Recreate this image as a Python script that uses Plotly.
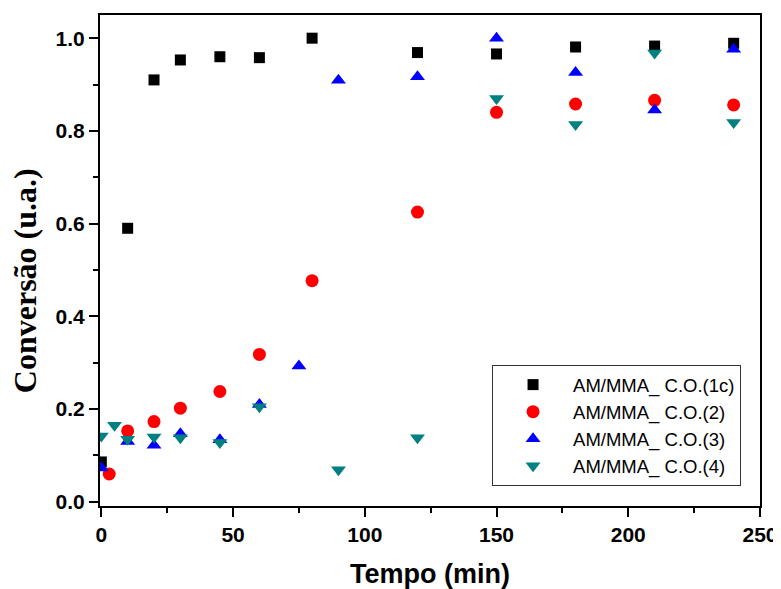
import plotly.graph_objects as go

t1 = [0, 10, 20, 30, 45, 60, 80, 120, 150, 180, 210, 240]
c1 = [0.086, 0.59, 0.91, 0.953, 0.96, 0.958, 1.0, 0.969, 0.966, 0.981, 0.983, 0.989]

t2 = [3, 10, 20, 30, 45, 60, 80, 120, 150, 180, 210, 240]
c2 = [0.06, 0.153, 0.173, 0.202, 0.238, 0.318, 0.477, 0.625, 0.840, 0.858, 0.866, 0.856]

t3 = [0, 10, 20, 30, 45, 60, 75, 90, 120, 150, 180, 210, 240]
c3 = [0.073, 0.13, 0.122, 0.147, 0.134, 0.21, 0.293, 0.909, 0.917, 1.0, 0.926, 0.845, 0.976]

t4 = [0, 5, 10, 20, 30, 45, 60, 90, 120, 150, 180, 210, 240]
c4 = [0.142, 0.165, 0.135, 0.14, 0.138, 0.128, 0.205, 0.069, 0.138, 0.870, 0.814, 0.968, 0.818]

names = ["AM/MMA_ C.O.(1c)", "AM/MMA_ C.O.(2)", "AM/MMA_ C.O.(3)", "AM/MMA_ C.O.(4)"]
colors = ["#000000", "#ff0000", "#0000ff", "#008080"]
symbols = ["square", "circle", "triangle-up", "triangle-down"]
sizes = [11, 13, 13, 13]

fig = go.Figure()
for t, c, n, col, s, sz in zip([t1, t2, t3, t4], [c1, c2, c3, c4], names, colors, symbols, sizes):
    fig.add_trace(go.Scatter(
        x=t, y=c, mode="markers", name=n,
        marker=dict(symbol=s, color=col, size=sz, line=dict(width=0)),
    ))

axis_common = dict(
    showgrid=False, zeroline=False, showline=True, linecolor="black", linewidth=2,
    mirror=True, ticks="outside", ticklen=9, tickwidth=2, tickcolor="black",
    automargin=False,
    tickfont=dict(family="Liberation Sans, Arial, sans-serif", size=21, color="black", weight="bold"),
)

fig.update_xaxes(
    range=[-0.5, 250], dtick=50, tick0=0,
    minor=dict(ticks="outside", ticklen=5, tickwidth=2, dtick=25, tickcolor="black"),
    title=dict(text="Tempo (min)", font=dict(family="Liberation Sans, Arial, sans-serif", size=27, color="black", weight="bold"), standoff=19),
    **axis_common,
)
fig.update_yaxes(
    range=[-0.009, 1.05], dtick=0.2, tick0=0, tickformat=".1f",
    minor=dict(ticks="outside", ticklen=5, tickwidth=2, dtick=0.1, tickcolor="black"),
    **axis_common,
)

fig.add_annotation(
    text="Conversão (u.a.)", textangle=-90,
    xref="paper", yref="paper", x=-0.1136, y=0.458,
    xanchor="center", yanchor="middle", showarrow=False,
    font=dict(family="Liberation Serif, Times New Roman, serif", size=32, color="black", weight="bold"),
)

fig.update_layout(
    width=781, height=589,
    margin=dict(l=92, r=29, t=7, b=91),
    plot_bgcolor="white", paper_bgcolor="white",
    showlegend=True,
    legend=dict(
        x=0.594, y=0.287, xanchor="left", yanchor="top",
        bordercolor="#333333", borderwidth=1, bgcolor="white",
        font=dict(family="Liberation Sans, Arial, sans-serif", size=18.5, color="black"),
        itemwidth=70, tracegroupgap=0,
    ),
)

fig.write_html("out.html")
